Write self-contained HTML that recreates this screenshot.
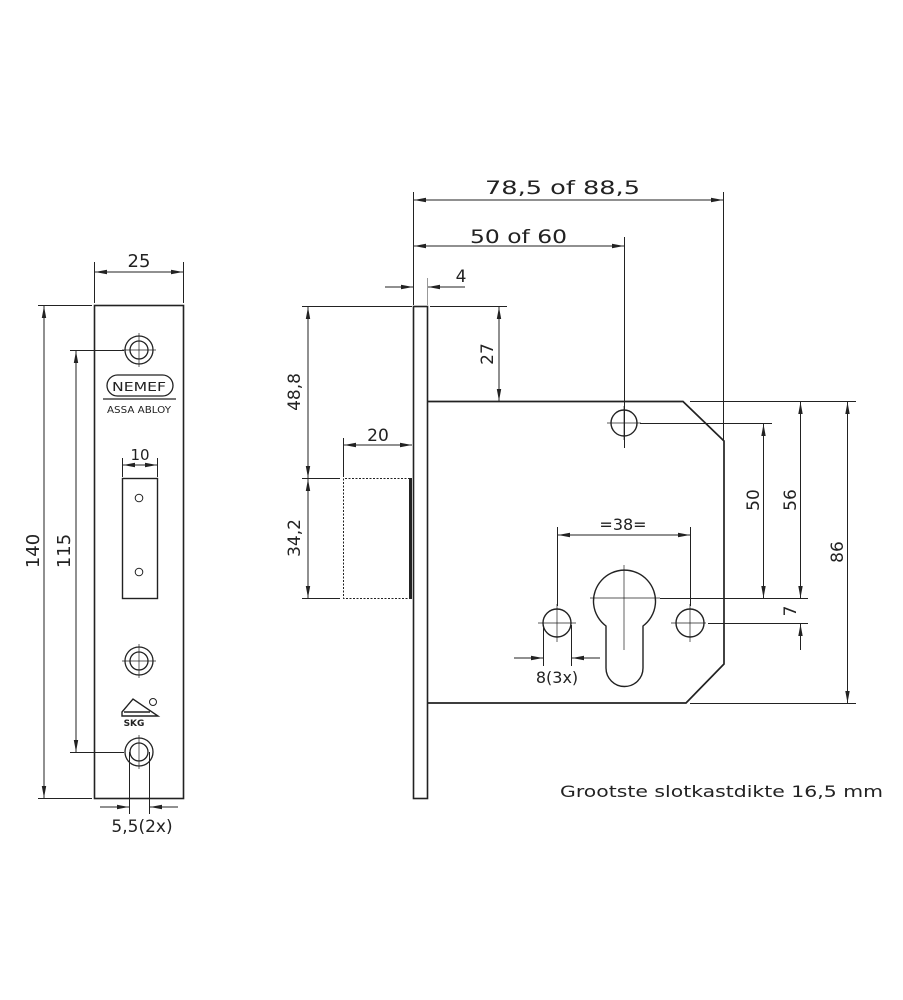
<!DOCTYPE html>
<html><head><meta charset="utf-8"><style>
html,body{margin:0;padding:0;background:#fff;}
svg{display:block}
text{font-family:"DejaVu Sans","Liberation Sans",sans-serif;fill:#222;}
</style></head><body>
<svg width="903" height="1000" viewBox="0 0 903 1000" xmlns="http://www.w3.org/2000/svg">
<defs>
<marker id="a" viewBox="0 0 12 6" refX="12" refY="3" markerWidth="12" markerHeight="6" orient="auto-start-reverse" markerUnits="userSpaceOnUse"><path d="M0,0.8 L12,3 L0,5.2z" fill="#222"/></marker>
</defs>
<g stroke="#222" fill="none" stroke-width="1">
<rect x="94.5" y="305.5" width="89" height="493" stroke-width="1.6"/>
<line x1="94.5" y1="262" x2="94.5" y2="303"/><line x1="183.5" y1="262" x2="183.5" y2="303"/>
<line x1="95" y1="272" x2="183" y2="272" marker-start="url(#a)" marker-end="url(#a)"/>
<line x1="38" y1="305.5" x2="92" y2="305.5"/><line x1="38" y1="798.5" x2="92" y2="798.5"/>
<line x1="44" y1="306" x2="44" y2="798" marker-start="url(#a)" marker-end="url(#a)"/>
<line x1="70" y1="350.5" x2="124" y2="350.5"/><line x1="70" y1="752.5" x2="124" y2="752.5"/>
<line x1="76" y1="351" x2="76" y2="752" marker-start="url(#a)" marker-end="url(#a)"/>
<g stroke-width="1.3">
<circle cx="139" cy="350" r="14"/><circle cx="139" cy="350" r="9"/>
<circle cx="139" cy="661" r="14"/><circle cx="139" cy="661" r="9"/>
<circle cx="139" cy="752" r="14"/><circle cx="139" cy="752" r="9"/>
</g>
<path d="M122 350H156M139 333V367M122 661H156M139 644V678M139 735V769" stroke-width="0.7"/>
<rect x="107" y="375" width="66" height="21" rx="10.5" stroke-width="1.3"/>
<line x1="103" y1="399" x2="176" y2="399" stroke-width="1.2"/>
<rect x="122.5" y="478.5" width="35" height="120" stroke-width="1.4"/>
<circle cx="139" cy="498" r="3.8"/><circle cx="139" cy="572" r="3.8"/>
<line x1="122.5" y1="458" x2="122.5" y2="477"/><line x1="157.5" y1="458" x2="157.5" y2="477"/>
<line x1="123" y1="465" x2="157" y2="465" marker-start="url(#a)" marker-end="url(#a)"/>
<path d="M122 712 L133 699 L158 716 L122 716 Z M124 712 L150 712" stroke-width="1.4"/>
<circle cx="153" cy="702" r="3.5" stroke-width="1"/>
<line x1="129.5" y1="752" x2="129.5" y2="814"/><line x1="149.5" y1="752" x2="149.5" y2="814"/>
<line x1="100" y1="807" x2="129" y2="807" marker-end="url(#a)"/>
<line x1="178" y1="807" x2="150" y2="807" marker-end="url(#a)"/>

<rect x="413.5" y="306.5" width="14" height="492" stroke-width="1.6"/>
<path d="M428 401.5 H683 L724 441 V664 L686 703 H428" stroke-width="1.7"/>
<path d="M410 478.5 H343.5 V598.5 H410" stroke-dasharray="2,1.5"/>
<line x1="410.5" y1="478" x2="410.5" y2="599" stroke-width="3"/>
<g stroke-width="1.4">
<circle cx="624" cy="423" r="13"/>
<circle cx="557" cy="623" r="14"/>
<circle cx="690" cy="623" r="14"/>
<path d="M606 626 A31 31 0 1 1 643 626 L643 668 A18.5 18.5 0 0 1 606 668 Z"/>
</g>
<path d="M607 423H641M624 406V440M538 623H576M557 604V642M671 623H706M690 604V642M590 598H660M624 565V650" stroke-width="0.7"/>
<line x1="413.5" y1="192" x2="413.5" y2="305"/>
<line x1="723.5" y1="192" x2="723.5" y2="440"/>
<line x1="414" y1="200" x2="723" y2="200" marker-start="url(#a)" marker-end="url(#a)"/>
<line x1="624.5" y1="237" x2="624.5" y2="448"/>
<line x1="414" y1="246" x2="624" y2="246" marker-start="url(#a)" marker-end="url(#a)"/>
<line x1="427.5" y1="278" x2="427.5" y2="305" stroke="#999"/>
<line x1="385" y1="287" x2="413" y2="287" marker-end="url(#a)"/>
<line x1="465" y1="287" x2="428" y2="287" marker-end="url(#a)"/>
<line x1="430" y1="306.5" x2="507" y2="306.5"/>
<line x1="499" y1="307" x2="499" y2="401" marker-start="url(#a)" marker-end="url(#a)"/>
<line x1="302" y1="306.5" x2="412" y2="306.5"/>
<line x1="302" y1="478.5" x2="340" y2="478.5"/>
<line x1="302" y1="598.5" x2="340" y2="598.5"/>
<line x1="308" y1="307" x2="308" y2="478" marker-start="url(#a)" marker-end="url(#a)"/>
<line x1="308" y1="479" x2="308" y2="598" marker-start="url(#a)" marker-end="url(#a)"/>
<line x1="343.5" y1="438" x2="343.5" y2="477"/>
<line x1="344" y1="445" x2="412" y2="445" marker-start="url(#a)" marker-end="url(#a)"/>
<line x1="557.5" y1="527" x2="557.5" y2="606"/>
<line x1="690.5" y1="527" x2="690.5" y2="606"/>
<line x1="558" y1="535" x2="690" y2="535" marker-start="url(#a)" marker-end="url(#a)"/>
<line x1="543.5" y1="625" x2="543.5" y2="666"/><line x1="571.5" y1="625" x2="571.5" y2="666"/>
<line x1="514" y1="658" x2="543" y2="658" marker-end="url(#a)"/>
<line x1="600" y1="658" x2="572" y2="658" marker-end="url(#a)"/>
<line x1="690" y1="401.5" x2="856" y2="401.5"/>
<line x1="640" y1="423.5" x2="772" y2="423.5"/>
<line x1="660" y1="598.5" x2="808" y2="598.5"/>
<line x1="708" y1="623.5" x2="808" y2="623.5"/>
<line x1="690" y1="703.5" x2="856" y2="703.5"/>
<line x1="763.5" y1="424" x2="763.5" y2="598" marker-start="url(#a)" marker-end="url(#a)"/>
<line x1="800.5" y1="402" x2="800.5" y2="598" marker-start="url(#a)" marker-end="url(#a)"/>
<line x1="800.5" y1="650" x2="800.5" y2="624" marker-end="url(#a)"/>
<line x1="847.5" y1="402" x2="847.5" y2="703" marker-start="url(#a)" marker-end="url(#a)"/>
</g>

<g font-size="18">
<text x="139" y="267" text-anchor="middle">25</text>
<text transform="translate(39,551) rotate(-90)" text-anchor="middle">140</text>
<text transform="translate(70,551) rotate(-90)" text-anchor="middle">115</text>
<text x="140" y="460" text-anchor="middle" font-size="15">10</text>
<text x="142" y="832" text-anchor="middle" font-size="17">5,5(2x)</text>
<text x="485" y="194" font-size="19" textLength="155" lengthAdjust="spacingAndGlyphs">78,5 of 88,5</text>
<text x="470" y="243" font-size="19" textLength="97" lengthAdjust="spacingAndGlyphs">50 of 60</text>
<text x="461" y="282" text-anchor="middle" font-size="17">4</text>
<text transform="translate(493,354) rotate(-90)" text-anchor="middle" font-size="17">27</text>
<text transform="translate(300,392) rotate(-90)" text-anchor="middle" font-size="17">48,8</text>
<text transform="translate(300,538) rotate(-90)" text-anchor="middle" font-size="17">34,2</text>
<text x="378" y="441" text-anchor="middle" font-size="17">20</text>
<text x="623" y="530" text-anchor="middle" font-size="16">=38=</text>
<text x="557" y="683" text-anchor="middle" font-size="16">8(3x)</text>
<text transform="translate(759,500) rotate(-90)" text-anchor="middle" font-size="17">50</text>
<text transform="translate(796,500) rotate(-90)" text-anchor="middle" font-size="17">56</text>
<text transform="translate(796,611) rotate(-90)" text-anchor="middle" font-size="17">7</text>
<text transform="translate(843,552) rotate(-90)" text-anchor="middle" font-size="17">86</text>
<text x="560" y="797" font-size="16" textLength="323" lengthAdjust="spacingAndGlyphs">Grootste slotkastdikte 16,5 mm</text>
</g>
<text x="139" y="391" text-anchor="middle" font-size="12" font-family="Liberation Sans" textLength="54" lengthAdjust="spacingAndGlyphs">NEMEF</text>
<text x="139" y="413" text-anchor="middle" font-size="10" font-family="Liberation Sans" textLength="64" lengthAdjust="spacingAndGlyphs">ASSA ABLOY</text>
<text x="134" y="726" text-anchor="middle" font-size="9" font-family="Liberation Sans" font-weight="bold">SKG</text>
</svg>
</body></html>
